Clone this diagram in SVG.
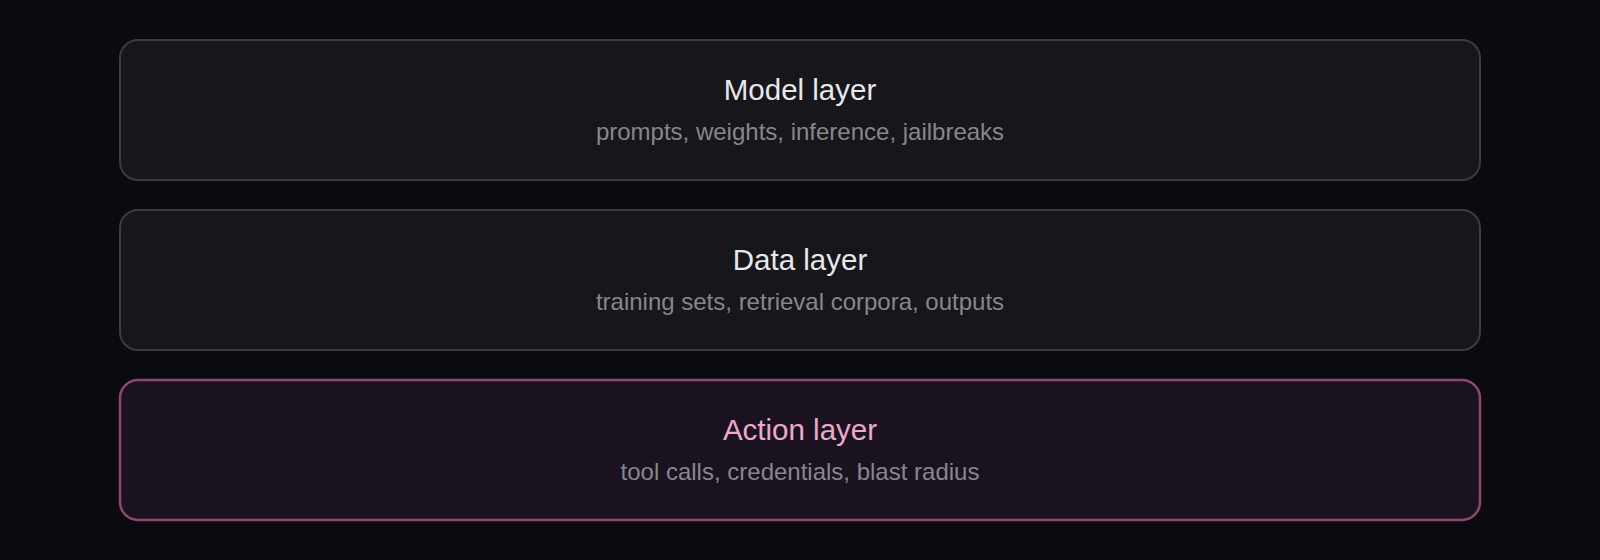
<svg xmlns="http://www.w3.org/2000/svg" width="1600" height="560" viewBox="0 0 1600 560">
<style>
.box{fill:#17161b;stroke:#3b3b41;stroke-width:2}
.hot{fill:#1a131f;stroke:#8e4672;stroke-width:2.5}
.t{font-family:"Liberation Sans",Arial,sans-serif;font-size:29.5px;fill:#e8e8eb;text-anchor:middle}
.th{fill:#f0a8ca}
.s{font-family:"Liberation Sans",Arial,sans-serif;font-size:24px;fill:#87868c;text-anchor:middle}
</style>
<rect width="1600" height="560" fill="#0b0b0f"/>
<g id="model">
<rect class="box" x="120" y="40" width="1360" height="140" rx="18"/>
<text class="t" x="800" y="100">Model layer</text>
<text class="s" x="800" y="140">prompts, weights, inference, jailbreaks</text>
</g>
<g id="data">
<rect class="box" x="120" y="210" width="1360" height="140" rx="18"/>
<text class="t" x="800" y="270">Data layer</text>
<text class="s" x="800" y="310">training sets, retrieval corpora, outputs</text>
</g>
<g id="action">
<rect class="hot" x="120" y="380" width="1360" height="140" rx="18"/>
<text class="t th" x="800" y="440">Action layer</text>
<text class="s" x="800" y="480">tool calls, credentials, blast radius</text>
</g>
<g id="connectors"/>
</svg>
